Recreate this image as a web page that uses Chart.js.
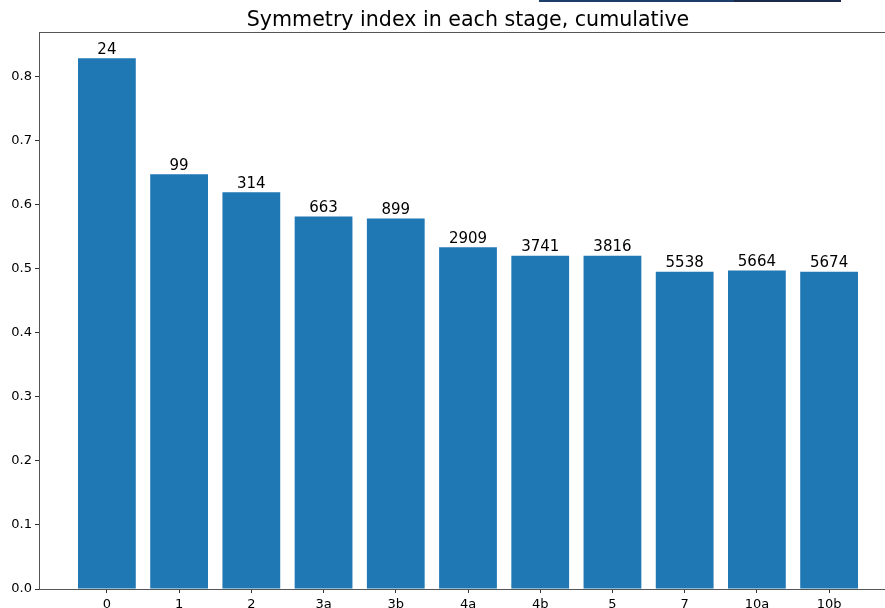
<!DOCTYPE html>
<html lang="en">
<head>
    <meta charset="UTF-8">
    <title>Symmetry index</title>
    <style>
        body {
            margin: 0;
            background: white;
            overflow: hidden;
            width: 885px;
            height: 608px;
            position: relative;
        }
        #wrap {
            position: absolute;
            left: 0;
            top: 0;
            width: 910px;
            height: 608px;
        }
        /* stray bar cut off at the top of the screenshot */
        .edge { position: absolute; top: 0; height: 2px; }
    </style>
    <script src="https://cdn.jsdelivr.net/npm/chart.js"></script>
</head>
<body>
    <div id="wrap"><canvas id="chart" width="910" height="608"></canvas></div>
    <div class="edge" style="left:539px;width:195px;background:#1d3d6b;"></div>
    <div class="edge" style="left:734px;width:107px;background:#1a2a48;"></div>

    <script>
        // stages on the x axis
        var stages = ['0', '1', '2', '3a', '3b', '4a', '4b', '5', '7', '10a', '10b'];
        // symmetry index per stage
        var symmetry = [0.828, 0.647, 0.619, 0.581, 0.578, 0.533, 0.520, 0.520, 0.495, 0.497, 0.495];
        // count printed above each bar
        var counts = [24, 99, 314, 663, 899, 2909, 3741, 3816, 5538, 5664, 5674];
        var yTicks = [0, 0.1, 0.2, 0.3, 0.4, 0.5, 0.6, 0.7, 0.8];
        var titleText = 'Symmetry index in each stage, cumulative';

        var font = "'DejaVu Sans', sans-serif";

        // frame around the plot area + title centred over the plot (matplotlib style)
        var framePlugin = {
            id: 'frame',
            afterDraw: function (chart) {
                var a = chart.chartArea, ctx = chart.ctx;
                ctx.save();
                ctx.strokeStyle = '#555';
                ctx.lineWidth = 1;
                ctx.strokeRect(a.left + 0.5, a.top + 0.5, a.right - a.left, a.bottom - a.top);
                ctx.font = '20.6px ' + font;
                ctx.fillStyle = '#000';
                ctx.textAlign = 'center';
                ctx.textBaseline = 'alphabetic';
                ctx.fillText(titleText, (a.left + a.right) / 2, a.top - 6);
                ctx.restore();
            }
        };

        // count labels on top of the bars
        var countPlugin = {
            id: 'counts',
            afterDatasetsDraw: function (chart) {
                var ctx = chart.ctx;
                var bars = chart.getDatasetMeta(0).data;
                ctx.save();
                ctx.font = '15px ' + font;
                ctx.fillStyle = '#000';
                ctx.textAlign = 'center';
                ctx.textBaseline = 'bottom';
                bars.forEach(function (bar, i) {
                    ctx.fillText(String(counts[i]), bar.x, bar.y - 1);
                });
                ctx.restore();
            }
        };

        var ctx = document.getElementById('chart').getContext('2d');
        var chart = new Chart(ctx, {
            type: 'bar',
            data: {
                datasets: [{
                    data: symmetry.map(function (v, i) { return { x: i, y: v }; }),
                    backgroundColor: '#1f77b4',
                    categoryPercentage: 1,
                    barPercentage: 0.8
                }]
            },
            options: {
                responsive: false,
                animation: false,
                // the plot runs past the right edge of the 885px window, as in the original
                layout: { padding: { left: 0, right: 13, top: 32, bottom: 0 } },
                plugins: {
                    legend: { display: false },
                    tooltip: { enabled: false },
                    title: { display: false }
                },
                scales: {
                    x: {
                        type: 'linear',
                        offset: false,
                        min: -0.94,
                        max: 10.94,
                        afterBuildTicks: function (s) {
                            s.ticks = stages.map(function (_, i) { return { value: i }; });
                        },
                        afterFit: function (s) { s.height = 19; },
                        ticks: {
                            autoSkip: false,
                            maxRotation: 0,
                            padding: 4,
                            color: '#000',
                            font: { family: font, size: 13 },
                            callback: function (v) { return stages[v]; }
                        },
                        grid: { offset: false, drawOnChartArea: false, drawTicks: true, tickLength: 4, color: '#333' },
                        border: { display: true, color: '#555' }
                    },
                    y: {
                        min: 0,
                        max: 0.869,
                        afterBuildTicks: function (s) {
                            s.ticks = yTicks.map(function (v) { return { value: v }; });
                        },
                        afterFit: function (s) { s.width = 39; },
                        ticks: {
                            padding: 3,
                            color: '#000',
                            font: { family: font, size: 13 },
                            callback: function (v) { return v.toFixed(1); }
                        },
                        grid: { drawOnChartArea: false, drawTicks: true, tickLength: 4, color: '#333' },
                        border: { display: true, color: '#555' }
                    }
                }
            },
            plugins: [framePlugin, countPlugin]
        });
    </script>
</body>
</html>
